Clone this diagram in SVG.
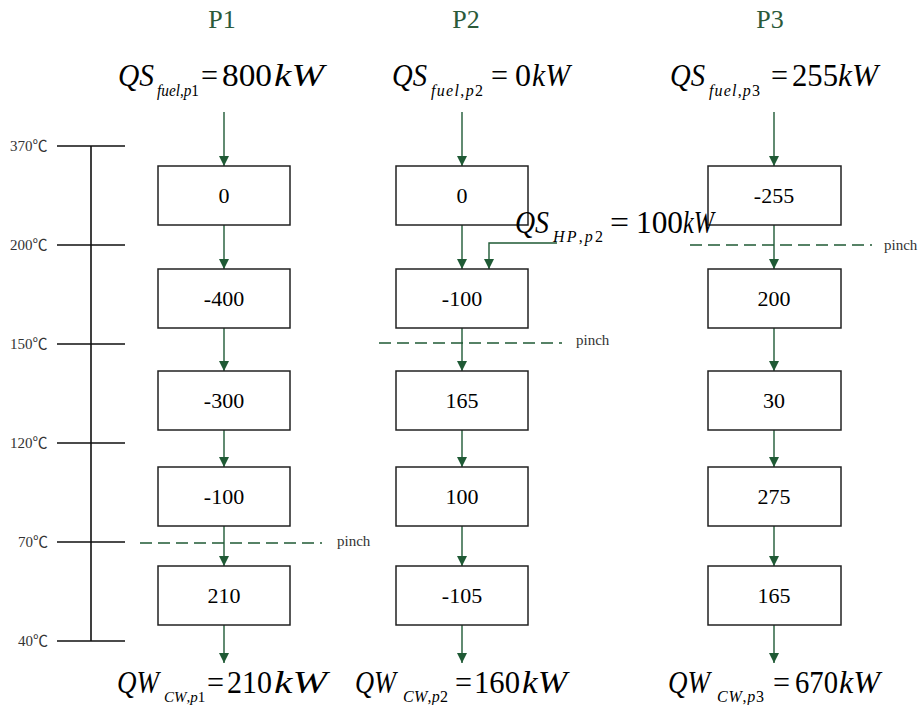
<svg xmlns="http://www.w3.org/2000/svg" width="922" height="705" viewBox="0 0 922 705">
  <style>
    text { font-family: "Liberation Serif", "Times New Roman", serif; fill: #000; }
    .title { font-size: 26px; fill: #2b5a3a; text-anchor: middle; }
    .m { font-size: 32px; }
    .it { font-style: italic; }
    .sub { font-size: 16px; }
    .sub-s { font-size: 15px; }
    .val { font-size: 22px; text-anchor: middle; }
    .temp { font-family: "Liberation Serif", "Noto Sans CJK TC", serif; font-size: 15px; fill: #333; }
    .pinch { font-size: 15px; fill: #333; }
    .box { fill: #fff; stroke: #222; stroke-width: 1.5; }
    .scale { stroke: #111; stroke-width: 1.6; fill: none; }
    .flow { stroke: #1f5a35; stroke-width: 1.4; fill: none; marker-end: url(#ah); }
    .cut { stroke: #1f5a35; stroke-width: 1.5; stroke-dasharray: 12 6; fill: none; }
  </style>
  <defs>
    <marker id="ah" markerUnits="userSpaceOnUse" markerWidth="10" markerHeight="10" refX="10" refY="5" orient="auto">
      <path d="M0,0 L10,5 L0,10 Z" fill="#1f5a35"/>
    </marker>
  </defs>

  <!-- temperature scale -->
  <g id="scale">
    <path class="scale" d="M91,146 V641 M57,146 H125 M57,245 H125 M57,344 H125 M57,443 H125 M57,542 H125 M57,641 H125"/>
    <text class="temp" x="10" y="151">370℃</text>
    <text class="temp" x="10" y="250">200℃</text>
    <text class="temp" x="10" y="349">150℃</text>
    <text class="temp" x="10" y="448">120℃</text>
    <text class="temp" x="18" y="547">70℃</text>
    <text class="temp" x="18" y="646">40℃</text>
  </g>

  <!-- column titles -->
  <g id="titles">
    <text class="title" x="222" y="28">P1</text>
    <text class="title" x="466" y="28">P2</text>
    <text class="title" x="770" y="28">P3</text>
  </g>

  <!-- connectors -->
  <g id="connectors">
    <path class="flow" d="M224,112 V166"/>
    <path class="flow" d="M224,225 V269"/>
    <path class="flow" d="M224,328 V371"/>
    <path class="flow" d="M224,430 V467"/>
    <path class="flow" d="M224,526 V566"/>
    <path class="flow" d="M224,625 V663"/>

    <path class="flow" d="M462,112 V166"/>
    <path class="flow" d="M462,225 V269"/>
    <path class="flow" d="M462,328 V371"/>
    <path class="flow" d="M462,430 V467"/>
    <path class="flow" d="M462,526 V566"/>
    <path class="flow" d="M462,625 V663"/>
    <path class="flow" d="M557,243 H489 V269"/>

    <path class="flow" d="M774,112 V166"/>
    <path class="flow" d="M774,225 V269"/>
    <path class="flow" d="M774,328 V371"/>
    <path class="flow" d="M774,430 V467"/>
    <path class="flow" d="M774,526 V566"/>
    <path class="flow" d="M774,625 V663"/>
  </g>

  <!-- pinch lines -->
  <g id="pinches">
    <path class="cut" d="M140,543 H322"/>
    <text class="pinch" x="337" y="546">pinch</text>
    <path class="cut" d="M379,343 H562"/>
    <text class="pinch" x="576" y="345">pinch</text>
    <path class="cut" d="M690,245 H872"/>
    <text class="pinch" x="884" y="250">pinch</text>
  </g>

  <!-- P1 intervals -->
  <g id="p1-1"><rect class="box" x="158" y="166" width="132" height="59"/><text class="val" x="224" y="203">0</text></g>
  <g id="p1-2"><rect class="box" x="158" y="269" width="132" height="59"/><text class="val" x="224" y="306">-400</text></g>
  <g id="p1-3"><rect class="box" x="158" y="371" width="132" height="59"/><text class="val" x="224" y="408">-300</text></g>
  <g id="p1-4"><rect class="box" x="158" y="467" width="132" height="59"/><text class="val" x="224" y="504">-100</text></g>
  <g id="p1-5"><rect class="box" x="158" y="566" width="132" height="59"/><text class="val" x="224" y="603">210</text></g>

  <!-- P2 intervals -->
  <g id="p2-1"><rect class="box" x="396" y="166" width="132" height="59"/><text class="val" x="462" y="203">0</text></g>
  <g id="p2-2"><rect class="box" x="396" y="269" width="132" height="59"/><text class="val" x="462" y="306">-100</text></g>
  <g id="p2-3"><rect class="box" x="396" y="371" width="132" height="59"/><text class="val" x="462" y="408">165</text></g>
  <g id="p2-4"><rect class="box" x="396" y="467" width="132" height="59"/><text class="val" x="462" y="504">100</text></g>
  <g id="p2-5"><rect class="box" x="396" y="566" width="132" height="59"/><text class="val" x="462" y="603">-105</text></g>

  <!-- P3 intervals -->
  <g id="p3-1"><rect class="box" x="708" y="166" width="133" height="59"/><text class="val" x="774" y="203">-255</text></g>
  <g id="p3-2"><rect class="box" x="708" y="269" width="133" height="59"/><text class="val" x="774" y="306">200</text></g>
  <g id="p3-3"><rect class="box" x="708" y="371" width="133" height="59"/><text class="val" x="774" y="408">30</text></g>
  <g id="p3-4"><rect class="box" x="708" y="467" width="133" height="59"/><text class="val" x="774" y="504">275</text></g>
  <g id="p3-5"><rect class="box" x="708" y="566" width="133" height="59"/><text class="val" x="774" y="603">165</text></g>

  <!-- heat supply labels -->
  <g id="qs-p1">
    <text class="m it" x="118" y="86" textLength="36" lengthAdjust="spacingAndGlyphs">QS</text>
    <text class="sub" x="157" y="96" textLength="42" lengthAdjust="spacingAndGlyphs"><tspan class="it">fuel</tspan>,<tspan class="it">p</tspan>1</text>
    <text class="m" x="201" y="86" textLength="17" lengthAdjust="spacingAndGlyphs">=</text>
    <text class="m" x="222" y="86" textLength="50" lengthAdjust="spacingAndGlyphs">800</text>
    <text class="m it" x="274" y="86" textLength="50" lengthAdjust="spacingAndGlyphs">kW</text>
  </g>
  <g id="qs-p2">
    <text class="m it" x="392" y="86" textLength="35" lengthAdjust="spacingAndGlyphs">QS</text>
    <text class="sub" x="431" y="96" textLength="52" lengthAdjust="spacing"><tspan class="it">fuel</tspan>,<tspan class="it">p</tspan>2</text>
    <text class="m" x="491" y="86" textLength="17" lengthAdjust="spacingAndGlyphs">=</text>
    <text class="m" x="515" y="86">0</text>
    <text class="m it" x="532" y="86" textLength="38" lengthAdjust="spacingAndGlyphs">kW</text>
  </g>
  <g id="qs-p3">
    <text class="m it" x="670" y="86" textLength="35" lengthAdjust="spacingAndGlyphs">QS</text>
    <text class="sub" x="709" y="96" textLength="51" lengthAdjust="spacing"><tspan class="it">fuel</tspan>,<tspan class="it">p</tspan>3</text>
    <text class="m" x="771" y="86" textLength="17" lengthAdjust="spacingAndGlyphs">=</text>
    <text class="m" x="792" y="86" textLength="46" lengthAdjust="spacingAndGlyphs">255</text>
    <text class="m it" x="838" y="86" textLength="40" lengthAdjust="spacingAndGlyphs">kW</text>
  </g>
  <g id="qs-hp-p2">
    <text class="m it" x="515" y="233" textLength="34" lengthAdjust="spacingAndGlyphs">QS</text>
    <text class="sub" x="553" y="242" textLength="50" lengthAdjust="spacing"><tspan class="it">HP</tspan>,<tspan class="it">p</tspan>2</text>
    <text class="m" x="610" y="233" textLength="19" lengthAdjust="spacingAndGlyphs">=</text>
    <text class="m" x="636" y="233" textLength="47" lengthAdjust="spacingAndGlyphs">100</text>
    <text class="m it" x="683" y="233" textLength="31" lengthAdjust="spacingAndGlyphs">kW</text>
  </g>

  <!-- cooling water labels -->
  <g id="qw-p1">
    <text class="m it" x="117" y="693" textLength="42" lengthAdjust="spacingAndGlyphs">QW</text>
    <text class="sub-s" x="164" y="702"><tspan class="it">CW</tspan>,<tspan class="it">p</tspan>1</text>
    <text class="m" x="207" y="693" textLength="17" lengthAdjust="spacingAndGlyphs">=</text>
    <text class="m" x="227" y="693" textLength="45" lengthAdjust="spacingAndGlyphs">210</text>
    <text class="m it" x="274" y="693" textLength="53" lengthAdjust="spacingAndGlyphs">kW</text>
  </g>
  <g id="qw-p2">
    <text class="m it" x="355" y="693" textLength="41" lengthAdjust="spacingAndGlyphs">QW</text>
    <text class="sub" x="403" y="702" textLength="45" lengthAdjust="spacing"><tspan class="it">CW</tspan>,<tspan class="it">p</tspan>2</text>
    <text class="m" x="455" y="693" textLength="17" lengthAdjust="spacingAndGlyphs">=</text>
    <text class="m" x="474" y="693" textLength="46" lengthAdjust="spacingAndGlyphs">160</text>
    <text class="m it" x="522" y="693" textLength="45" lengthAdjust="spacingAndGlyphs">kW</text>
  </g>
  <g id="qw-p3">
    <text class="m it" x="668" y="693" textLength="42" lengthAdjust="spacingAndGlyphs">QW</text>
    <text class="sub" x="717" y="702" textLength="47" lengthAdjust="spacing"><tspan class="it">CW</tspan>,<tspan class="it">p</tspan>3</text>
    <text class="m" x="773" y="693" textLength="17" lengthAdjust="spacingAndGlyphs">=</text>
    <text class="m" x="795" y="693" textLength="43" lengthAdjust="spacingAndGlyphs">670</text>
    <text class="m it" x="839" y="693" textLength="41" lengthAdjust="spacingAndGlyphs">kW</text>
  </g>
</svg>
